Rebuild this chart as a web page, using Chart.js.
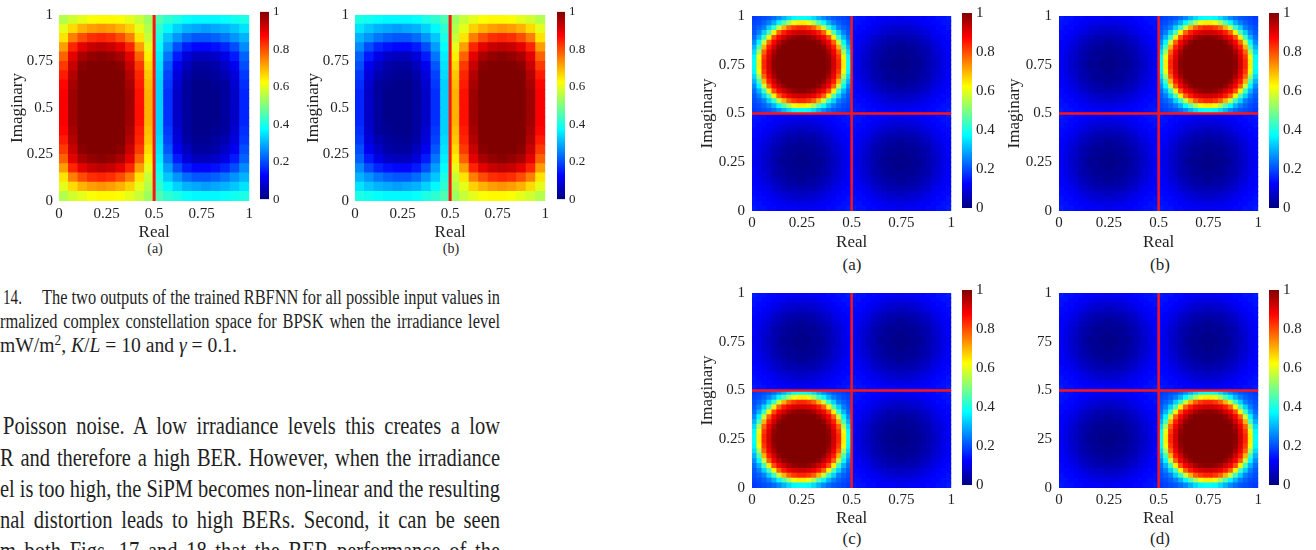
<!DOCTYPE html>
<html lang="en">
<head>
<meta charset="utf-8">
<title>RBFNN outputs over the constellation space</title>
<script src="https://cdn.jsdelivr.net/npm/chart.js@4.4.1/dist/chart.umd.min.js"></script>
<style>
  html, body { margin: 0; padding: 0; background: #fff; }
  body { position: relative; width: 1316px; height: 550px; overflow: hidden;
         font-family: 'Liberation Serif', 'Times New Roman', serif; color: #1f1f1f; }
  .pane { position: absolute; }
  .pane canvas { display: block; }
  .sub { position: absolute; line-height: 1; white-space: nowrap; transform: translate(-50%, -50%); }
  .ln { position: absolute; line-height: 1; white-space: nowrap; transform-origin: 0 0; }
  .ln i { font-style: italic; }
  .sup { font-size: 0.68em; vertical-align: 0.5em; line-height: 0; }
</style>
</head>
<body>

<div class="sub" style="left:155px;top:249px;font-size:14px">(a)</div>
<div class="sub" style="left:451px;top:249px;font-size:14px">(b)</div>
<div class="sub" style="left:852px;top:264px;font-size:17px">(a)</div>
<div class="sub" style="left:1160px;top:264px;font-size:17px">(b)</div>
<div class="sub" style="left:852px;top:538px;font-size:17px">(c)</div>
<div class="sub" style="left:1160px;top:538px;font-size:17px">(d)</div>

<div class="ln" data-w="19" style="left:3px;top:287px;font-size:20px">14.</div>
<div class="ln" data-w="458" data-j="1" style="left:42px;top:287px;font-size:20px">The two outputs of the trained RBFNN for all possible input values in</div>
<div class="ln" data-w="500" data-j="1" style="left:0px;top:311px;font-size:20px">rmalized complex constellation space for BPSK when the irradiance level</div>
<div class="ln" data-w="237" style="left:0px;top:335px;font-size:20px">mW/m<span class="sup">2</span>, <i>K</i>/<i>L</i> = 10 and <i>γ</i> = 0.1.</div>

<div class="ln" data-w="497" data-j="1" style="left:3px;top:413px;font-size:25px">Poisson noise. A low irradiance levels this creates a low</div>
<div class="ln" data-w="500" data-j="1" style="left:0px;top:445px;font-size:25px">R and therefore a high BER. However, when the irradiance</div>
<div class="ln" data-w="500" data-j="1" style="left:0px;top:476px;font-size:25px">el is too high, the SiPM becomes non-linear and the resulting</div>
<div class="ln" data-w="500" data-j="1" style="left:0px;top:507px;font-size:25px">nal distortion leads to high BERs. Second, it can be seen</div>
<div class="ln" data-w="500" data-j="1" style="left:0px;top:538px;font-size:25px">m both Figs. 17 and 18 that the BER performance of the</div>

<script>
// ---------------------------------------------------------------------------
// Data. Values are percent of the colour scale (0..100).
// Grid rows run from Imaginary = 1 (top) down to 0, columns from Real = 0 to 1.
// ---------------------------------------------------------------------------
const axisTicks = [0, 0.25, 0.5, 0.75, 1];
const axisTickLabels = ['0', '0.25', '0.5', '0.75', '1'];
const colorRange = [0, 1];
const colorbarTicks = [0, 0.2, 0.4, 0.6, 0.8, 1];
const colorbarTickLabels = ['0', '0.2', '0.4', '0.6', '0.8', '1'];

// decision boundaries (red lines)
const bpskBoundaryX = [0.5];
const qpskBoundaryX = [0.5];
const qpskBoundaryY = [0.5];

// BPSK, output 1 (Fig. 14a), 20 x 20 cells
const bpskOutput1 = [
  [55,58,60,62,63,63,62,60,57,53,45,42,40,38,37,37,37,38,39,40],
  [60,66,70,72,73,72,70,67,60,55,42,37,33,30,29,28,29,30,32,35],
  [65,75,80,83,84,83,80,75,65,57,40,32,27,23,21,21,22,24,27,30],
  [72,84,90,93,94,93,90,84,72,60,38,28,20,15,13,13,14,16,20,26],
  [78,90,96,98,99,98,96,90,78,64,36,24,15,9,6,6,7,10,15,22],
  [82,93,99,100,100,100,99,93,82,66,35,21,11,6,3,3,4,7,11,20],
  [85,95,100,100,100,100,100,95,84,68,34,19,9,4,2,2,3,5,9,18],
  [87,96,100,100,100,100,100,96,85,69,33,18,8,3,1,1,2,3,8,17],
  [88,97,100,100,100,100,100,97,86,70,33,17,7,3,1,1,1,3,7,16],
  [88,97,100,100,100,100,100,97,86,70,33,17,7,3,1,1,1,3,7,16],
  [88,97,100,100,100,100,100,97,86,70,33,17,7,3,1,1,1,3,7,16],
  [88,97,100,100,100,100,100,97,86,70,33,17,7,3,1,1,1,3,7,16],
  [87,96,100,100,100,100,100,96,85,69,33,18,8,3,1,1,2,3,8,17],
  [85,95,100,100,100,100,100,95,84,68,34,19,9,4,2,2,3,5,9,18],
  [82,93,99,100,100,100,99,93,82,66,35,21,11,6,3,3,4,7,11,20],
  [78,90,96,98,99,98,96,90,78,64,36,24,15,9,6,6,7,10,15,22],
  [72,84,90,93,94,93,90,84,72,60,38,28,20,15,13,13,14,16,20,26],
  [65,75,80,83,84,83,80,75,65,57,40,32,27,23,21,21,22,24,27,30],
  [60,66,70,72,73,72,70,67,60,55,42,37,33,30,29,28,29,30,32,35],
  [55,58,60,62,63,63,62,60,57,53,45,42,40,38,37,37,37,38,39,40]
];

// BPSK, output 2 (Fig. 14b), 20 x 20 cells
const bpskOutput2 = [
  [40,39,38,37,37,37,38,40,42,45,53,57,60,62,63,63,62,60,58,55],
  [35,32,30,29,28,29,30,33,37,42,55,60,67,70,72,73,72,70,66,60],
  [30,27,24,22,21,21,23,27,32,40,57,65,75,80,83,84,83,80,75,65],
  [26,20,16,14,13,13,15,20,28,38,60,72,84,90,93,94,93,90,84,72],
  [22,15,10,7,6,6,9,15,24,36,64,78,90,96,98,99,98,96,90,78],
  [20,11,7,4,3,3,6,11,21,35,66,82,93,99,100,100,100,99,93,82],
  [18,9,5,3,2,2,4,9,19,34,68,84,95,100,100,100,100,100,95,85],
  [17,8,3,2,1,1,3,8,18,33,69,85,96,100,100,100,100,100,96,87],
  [16,7,3,1,1,1,3,7,17,33,70,86,97,100,100,100,100,100,97,88],
  [16,7,3,1,1,1,3,7,17,33,70,86,97,100,100,100,100,100,97,88],
  [16,7,3,1,1,1,3,7,17,33,70,86,97,100,100,100,100,100,97,88],
  [16,7,3,1,1,1,3,7,17,33,70,86,97,100,100,100,100,100,97,88],
  [17,8,3,2,1,1,3,8,18,33,69,85,96,100,100,100,100,100,96,87],
  [18,9,5,3,2,2,4,9,19,34,68,84,95,100,100,100,100,100,95,85],
  [20,11,7,4,3,3,6,11,21,35,66,82,93,99,100,100,100,99,93,82],
  [22,15,10,7,6,6,9,15,24,36,64,78,90,96,98,99,98,96,90,78],
  [26,20,16,14,13,13,15,20,28,38,60,72,84,90,93,94,93,90,84,72],
  [30,27,24,22,21,21,23,27,32,40,57,65,75,80,83,84,83,80,75,65],
  [35,32,30,29,28,29,30,33,37,42,55,60,67,70,72,73,72,70,66,60],
  [40,39,38,37,37,37,38,40,42,45,53,57,60,62,63,63,62,60,58,55]
];

// QPSK: the quadrant that holds the active symbol (20 x 20 cells per quadrant)
const qpskPeakQuadrant = [
  [18,19,20,21,23,26,30,34,37,38,38,37,34,30,26,23,21,20,19,18],
  [19,20,22,25,30,37,45,54,61,64,64,61,54,45,37,30,25,22,20,19],
  [20,22,25,33,43,57,70,78,82,84,84,82,78,70,57,43,33,25,22,20],
  [21,25,33,45,64,78,85,89,91,92,92,91,89,85,78,64,45,33,25,21],
  [23,30,43,64,80,88,92,96,98,99,99,98,96,92,88,80,64,43,30,23],
  [26,37,57,78,88,94,98,100,100,100,100,100,100,98,94,88,78,57,37,26],
  [30,45,70,85,92,98,100,100,100,100,100,100,100,100,98,92,85,70,45,30],
  [34,54,78,89,96,100,100,100,100,100,100,100,100,100,100,96,89,78,54,34],
  [37,61,82,91,98,100,100,100,100,100,100,100,100,100,100,98,91,82,61,37],
  [38,64,84,92,99,100,100,100,100,100,100,100,100,100,100,99,92,84,64,38],
  [38,64,84,92,99,100,100,100,100,100,100,100,100,100,100,99,92,84,64,38],
  [37,61,82,91,98,100,100,100,100,100,100,100,100,100,100,98,91,82,61,37],
  [34,54,78,89,96,100,100,100,100,100,100,100,100,100,100,96,89,78,54,34],
  [30,45,70,85,92,98,100,100,100,100,100,100,100,100,98,92,85,70,45,30],
  [26,37,57,78,88,94,98,100,100,100,100,100,100,98,94,88,78,57,37,26],
  [23,30,43,64,80,88,92,96,98,99,99,98,96,92,88,80,64,43,30,23],
  [21,25,33,45,64,78,85,89,91,92,92,91,89,85,78,64,45,33,25,21],
  [20,22,25,33,43,57,70,78,82,84,84,82,78,70,57,43,33,25,22,20],
  [19,20,22,25,30,37,45,54,61,64,64,61,54,45,37,30,25,22,20,19],
  [18,19,20,21,23,26,30,34,37,38,38,37,34,30,26,23,21,20,19,18]
];

// QPSK: the three other quadrants (20 x 20 cells per quadrant)
const qpskQuietQuadrant = [
  [15,14,14,13,13,12,12,12,12,11,11,12,12,12,12,13,13,14,14,15],
  [14,14,13,13,12,12,11,10,10,10,10,10,10,11,12,12,13,13,14,14],
  [14,13,13,12,11,10,9,9,8,8,8,8,9,9,10,11,12,13,13,14],
  [13,13,12,11,10,9,8,7,7,6,6,7,7,8,9,10,11,12,13,13],
  [13,12,11,10,8,7,6,5,5,5,5,5,5,6,7,8,10,11,12,13],
  [12,12,10,9,7,6,5,4,4,3,3,4,4,5,6,7,9,10,12,12],
  [12,11,9,8,6,5,4,3,3,2,2,3,3,4,5,6,8,9,11,12],
  [12,10,9,7,5,4,3,2,2,2,2,2,2,3,4,5,7,9,10,12],
  [12,10,8,7,5,4,3,2,2,1,1,2,2,3,4,5,7,8,10,12],
  [11,10,8,6,5,3,2,2,1,1,1,1,2,2,3,5,6,8,10,11],
  [11,10,8,6,5,3,2,2,1,1,1,1,2,2,3,5,6,8,10,11],
  [12,10,8,7,5,4,3,2,2,1,1,2,2,3,4,5,7,8,10,12],
  [12,10,9,7,5,4,3,2,2,2,2,2,2,3,4,5,7,9,10,12],
  [12,11,9,8,6,5,4,3,3,2,2,3,3,4,5,6,8,9,11,12],
  [12,12,10,9,7,6,5,4,4,3,3,4,4,5,6,7,9,10,12,12],
  [13,12,11,10,8,7,6,5,5,5,5,5,5,6,7,8,10,11,12,13],
  [13,13,12,11,10,9,8,7,7,6,6,7,7,8,9,10,11,12,13,13],
  [14,13,13,12,11,10,9,9,8,8,8,8,9,9,10,11,12,13,13,14],
  [14,14,13,13,12,12,11,10,10,10,10,10,10,11,12,12,13,13,14,14],
  [15,14,14,13,13,12,12,12,12,11,11,12,12,12,12,13,13,14,14,15]
];

// which quadrant is active in QPSK panels (a)..(d)
const qpskActiveQuadrant = ['TL', 'TR', 'BL', 'BR'];

// ---------------------------------------------------------------------------
// styling / layout
// ---------------------------------------------------------------------------
const SERIF = "'Liberation Serif', 'Times New Roman', serif";
const INK = '#222';
const BOUNDARY_RED = '#ff1414';
const JET_STOPS = [0, 0.125, 0.375, 0.625, 0.875, 1];

const bpskStyle = { yAxisW: 56, xAxisH: 42, tickFont: 15, titleFont: 17, cbFont: 13, tickPadX: 4, tickPadY: 6, yTitlePad: 4, lineW: 3 };
const qpskStyle = { yAxisW: 60, xAxisH: 42, tickFont: 15, titleFont: 17, cbFont: 15, tickPadX: 3, tickPadY: 7, yTitlePad: 5, lineW: 2.5 };

const bpskPanels = [
  { ...bpskStyle, L: 59, T: 10, R: 251, B: 201, cbL: 260, cbR: 269 },
  { ...bpskStyle, L: 355, T: 10, R: 547, B: 201, cbL: 557, cbR: 565 }
];
const qpskPanels = [
  { ...qpskStyle, L: 752, T: 10, R: 952, B: 211, cbL: 962, cbR: 972 },
  { ...qpskStyle, L: 1059, T: 10, R: 1259, B: 211, cbL: 1269, cbR: 1279 },
  { ...qpskStyle, L: 752, T: 287, R: 952, B: 488, cbL: 962, cbR: 972, xAxisH: 41 },
  { ...qpskStyle, L: 1059, T: 287, R: 1259, B: 488, cbL: 1269, cbR: 1279, xAxisH: 41, clipLeft: 1038 }
];

function jet(v) {
  const f = t => Math.round(255 * Math.max(0, Math.min(1, 1.5 - Math.abs(4 * v - t))));
  return 'rgb(' + f(3) + ',' + f(2) + ',' + f(1) + ')';
}

function addCanvas(left, top, w, h, clipLeft) {
  const pane = document.createElement('div');
  pane.className = 'pane';
  pane.style.cssText = 'left:' + left + 'px;top:' + top + 'px;width:' + w + 'px;height:' + h + 'px';
  if (clipLeft) pane.style.clipPath = 'inset(0 0 0 ' + (clipLeft - left) + 'px)';
  const cv = document.createElement('canvas');
  cv.width = w;
  cv.height = h;
  pane.appendChild(cv);
  document.body.appendChild(pane);
  return cv;
}

function axisOpts(title, g, isX) {
  return {
    type: 'linear',
    min: axisTicks[0],
    max: axisTicks[axisTicks.length - 1],
    afterBuildTicks: s => { s.ticks = axisTicks.map(value => ({ value })); },
    afterFit: s => { if (isX) s.height = g.xAxisH; else s.width = g.yAxisW; },
    ticks: {
      autoSkip: false, maxRotation: 0,
      padding: isX ? g.tickPadX : g.tickPadY,
      color: INK,
      font: { family: SERIF, size: g.tickFont },
      callback: v => axisTickLabels[axisTicks.indexOf(v)]
    },
    grid: { display: false, drawTicks: false },
    border: { display: false },
    title: {
      display: true, text: title, color: INK,
      font: { family: SERIF, size: g.titleFont },
      padding: isX ? { top: 0, bottom: 0 } : { top: g.yTitlePad, bottom: 0 }
    }
  };
}

function drawHeatmap(g, grid, linesX, linesY) {
  const padT = 10, padR = 6;
  const w = g.R - g.L + g.yAxisW + padR;
  const h = g.B - g.T + padT + g.xAxisH;
  const cv = addCanvas(g.L - g.yAxisW, g.T - padT, w, h, g.clipLeft);

  const rows = grid.length, cols = grid[0].length;
  const cells = [];
  grid.forEach((row, r) => row.forEach((v, c) => {
    cells.push({ x: (c + 0.5) / cols, y: 1 - (r + 0.5) / rows, v: v / 100 });
  }));

  const lo = axisTicks[0], hi = axisTicks[axisTicks.length - 1];
  const lines = linesX.map(x => [{ x, y: lo }, { x, y: hi }])
    .concat(linesY.map(y => [{ x: lo, y }, { x: hi, y }]))
    .map(d => ({ data: d, showLine: true, borderColor: BOUNDARY_RED, borderWidth: g.lineW, pointRadius: 0, order: 0, clip: 0 }));

  // cell size in pixels, from the scales
  const cellRadius = ctx => {
    const sx = ctx.chart.scales.x, sy = ctx.chart.scales.y;
    if (!sx || !sy) return 3;
    const px = Math.max(Math.abs(sx.getPixelForValue(1 / cols) - sx.getPixelForValue(0)),
                        Math.abs(sy.getPixelForValue(1 / rows) - sy.getPixelForValue(0)));
    return (px + 1) / Math.SQRT2;
  };

  new Chart(cv, {
    type: 'scatter',
    data: {
      datasets: lines.concat([{
        data: cells,
        pointStyle: 'rect',
        pointRadius: cellRadius,
        pointBorderWidth: 0,
        pointBackgroundColor: cells.map(p => jet(p.v)),
        order: 1,
        clip: 0
      }])
    },
    options: {
      responsive: false,
      animation: false,
      events: [],
      layout: { autoPadding: false, padding: { top: padT, right: padR, left: 0, bottom: 0 } },
      plugins: { legend: { display: false }, tooltip: { enabled: false } },
      scales: { x: axisOpts('Real', g, true), y: axisOpts('Imaginary', g, false) }
    }
  });
}

function jetGradient(ctx) {
  const chart = ctx.chart, y = chart.scales.y;
  if (!y || !chart.chartArea) return jet(0.5);
  const grad = chart.ctx.createLinearGradient(0, y.getPixelForValue(colorRange[0]), 0, y.getPixelForValue(colorRange[1]));
  JET_STOPS.forEach(v => grad.addColorStop(v, jet(v)));
  return grad;
}

function drawColorbar(g) {
  const padT = 10, labelW = 34;
  const w = g.cbR - g.cbL + labelW;
  const h = g.B - g.T + 2 * padT;
  const cv = addCanvas(g.cbL, g.T - padT, w, h);
  new Chart(cv, {
    type: 'bar',
    data: {
      labels: [''],
      datasets: [{ data: [colorRange], backgroundColor: jetGradient, borderWidth: 0, barPercentage: 1, categoryPercentage: 1 }]
    },
    options: {
      responsive: false,
      animation: false,
      events: [],
      layout: { autoPadding: false, padding: { top: padT, bottom: padT, left: 0, right: 0 } },
      plugins: { legend: { display: false }, tooltip: { enabled: false } },
      scales: {
        x: { display: false },
        y: {
          position: 'right',
          min: colorRange[0], max: colorRange[1],
          afterBuildTicks: s => { s.ticks = colorbarTicks.map(value => ({ value })); },
          afterFit: s => { s.width = labelW; },
          ticks: {
            padding: 4, color: INK,
            font: { family: SERIF, size: g.cbFont },
            callback: v => colorbarTickLabels[colorbarTicks.indexOf(v)]
          },
          grid: { display: false, drawTicks: false },
          border: { display: false }
        }
      }
    }
  });
}

function qpskGrid(active) {
  const n = qpskPeakQuadrant.length;
  const grid = [];
  for (let r = 0; r < 2 * n; r++) {
    const row = [];
    for (let c = 0; c < 2 * n; c++) {
      const quad = (r < n ? 'T' : 'B') + (c < n ? 'L' : 'R');
      const src = quad === active ? qpskPeakQuadrant : qpskQuietQuadrant;
      row.push(src[r % n][c % n]);
    }
    grid.push(row);
  }
  return grid;
}

[bpskOutput1, bpskOutput2].forEach((grid, i) => {
  drawHeatmap(bpskPanels[i], grid, bpskBoundaryX, []);
  drawColorbar(bpskPanels[i]);
});
qpskActiveQuadrant.forEach((quad, i) => {
  drawHeatmap(qpskPanels[i], qpskGrid(quad), qpskBoundaryX, qpskBoundaryY);
  drawColorbar(qpskPanels[i]);
});

// fit each text line to the width it spans in the scanned page
const GLYPH_SQUEEZE = 0.82;
document.querySelectorAll('.ln').forEach(el => {
  const target = +el.dataset.w;
  const natural = el.getBoundingClientRect().width;
  let s = target / natural;
  if (el.dataset.j && s > GLYPH_SQUEEZE) {
    const gaps = (el.textContent.match(/ /g) || []).length;
    if (gaps) el.style.wordSpacing = ((target / GLYPH_SQUEEZE - natural) / gaps) + 'px';
    s = GLYPH_SQUEEZE;
  }
  el.style.transform = 'scaleX(' + s + ')';
});
</script>
</body>
</html>
